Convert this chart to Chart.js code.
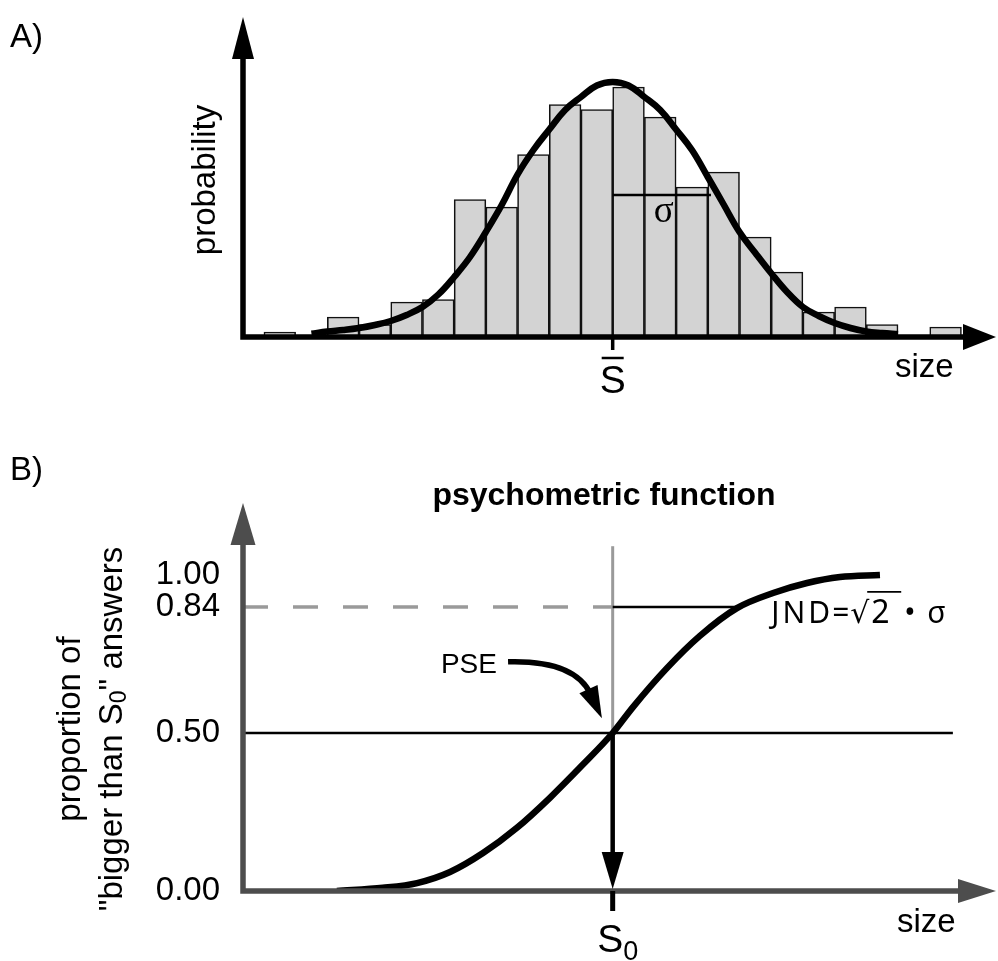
<!DOCTYPE html>
<html>
<head>
<meta charset="utf-8">
<script src="https://cdn.jsdelivr.net/npm/chart.js@4.4.1/dist/chart.umd.min.js"></script>
<style>
  body { margin: 0; background: #fff; }
  #page { position: relative; width: 998px; height: 961px; }
  canvas { position: absolute; left: 0; }
</style>
</head>
<body>
<div id="page">
  <canvas id="histChart" width="998" height="440" style="top:0"></canvas>
  <canvas id="psychChart" width="998" height="521" style="top:440px"></canvas>
</div>
<script>
// ---- A) histogram of size estimates + normal fit ----
const binCenters = [0.5, 1.5, 2.5, 3.5, 4.5, 5.5, 6.5, 7.5, 8.5, 9.5, 10.5,
                    11.5, 12.5, 13.5, 14.5, 15.5, 16.5, 17.5, 18.5, 19.5, 20.5, 21.5];
const binCounts = [2, 0, 8, 5, 14, 15, 55, 52, 73, 93, 91,
                   100, 88, 60, 66, 40, 26, 10, 12, 5, 0, 4];
const fitSize = [1.5, 2, 2.5, 3, 3.5, 4, 4.5, 5, 5.5, 6, 6.5, 7, 7.5, 8, 8.5, 9, 9.5, 10, 10.5, 11,
                 11.5, 12, 12.5, 13, 13.5, 14, 14.5, 15, 15.5, 16, 16.5, 17, 17.5, 18, 18.5, 19, 19.5, 20];
const fitCount = [1.3, 2.2, 2.8, 3.6, 4.8, 6.4, 8.8, 12, 17, 24, 32, 42, 52.8, 65, 74.8, 83, 90.8, 96, 100.6, 102,
                  100.6, 96, 90.8, 83, 74.8, 64, 53, 42, 33.6, 25.5, 18, 12, 8.4, 5.6, 3.6, 2.2, 1.6, 1.2];
const meanSize = 11;
const sigma = 3.1;
const sigmaLevel = 56.8;

// ---- B) psychometric function ----
const s0 = 11;
const testSize = [2.3, 3.75, 4.83, 5.87, 6.91, 7.98, 9.02, 10.06, 11, 11.64, 12.71, 13.75, 14.92, 16.06, 17.13, 18.17, 19.43];
const pBigger = [0, 0.01, 0.025, 0.06, 0.12, 0.2, 0.295, 0.4, 0.5, 0.57, 0.675, 0.762, 0.837, 0.91, 0.96, 0.99, 1.0];
const yTickValues = [0, 0.5, 0.84, 1.0];
const yTickLabels = ['0.00', '0.50', '0.84', '1.00'];
const pse = 0.5;
const jndLevel = 0.84;
const jndEnd = 14.95;
const halfLineEnd = 21.73;

const X_MIN = -0.66, X_MAX = 23.09;
const SANS = '"Liberation Sans", Arial, Helvetica, sans-serif';

// the drawn y axis of B is schematic: its tick marks are not evenly spaced
const knotValues = [0, 0.5, 0.84, 1.0, 1.25];
const knotDecimals = [0, 0.4072, 0.7320, 0.8144, 1];
function piecewise(v, from, to) {
  if (v <= from[0]) return to[0] + (v - from[0]) * (to[1] - to[0]) / (from[1] - from[0]);
  for (let i = 1; i < from.length; i++) {
    if (v <= from[i]) return to[i - 1] + (v - from[i - 1]) * (to[i] - to[i - 1]) / (from[i] - from[i - 1]);
  }
  const n = from.length - 1;
  return to[n] + (v - from[n]) * (to[n] - to[n - 1]) / (from[n] - from[n - 1]);
}
class SchematicScale extends Chart.LinearScale {
  getPixelForValue(value) {
    if (value === null || value === undefined) return NaN;
    return this.getPixelForDecimal(piecewise(value, knotValues, knotDecimals));
  }
  getValueForPixel(pixel) {
    return piecewise(this.getDecimalForPixel(pixel), knotDecimals, knotValues);
  }
}
SchematicScale.id = 'schematic';
SchematicScale.defaults = Chart.LinearScale.defaults;
Chart.register(SchematicScale);

function arrowHead(ctx, tx, ty, dx, dy, len, half) {
  const bx = tx - dx * len, by = ty - dy * len;
  ctx.beginPath();
  ctx.moveTo(tx, ty);
  ctx.lineTo(bx - dy * half, by + dx * half);
  ctx.lineTo(bx + dy * half, by - dx * half);
  ctx.closePath();
  ctx.fill();
}

// text made of runs [text, size, baselineShift, family]
function drawRuns(ctx, runs, x, y, align) {
  let total = 0;
  runs.forEach(r => { ctx.font = r[1] + 'px ' + (r[3] || SANS); total += ctx.measureText(r[0]).width; });
  let cx = align === 'center' ? x - total / 2 : (align === 'right' ? x - total : x);
  ctx.textAlign = 'left';
  runs.forEach(r => {
    ctx.font = r[1] + 'px ' + (r[3] || SANS);
    ctx.fillText(r[0], cx, y + (r[2] || 0));
    cx += ctx.measureText(r[0]).width;
  });
}

const histDecor = {
  id: 'histDecor',
  afterDatasetsDraw(chart) {
    const { ctx, chartArea: a, scales: { x } } = chart;
    ctx.save();
    ctx.strokeStyle = '#000'; ctx.fillStyle = '#000';
    ctx.lineWidth = 5.5; ctx.lineJoin = 'miter'; ctx.lineCap = 'butt';
    ctx.beginPath();
    ctx.moveTo(a.left, a.top + 40);
    ctx.lineTo(a.left, a.bottom);
    ctx.lineTo(a.right - 30, a.bottom);
    ctx.stroke();
    arrowHead(ctx, a.left, a.top, 0, -1, 42, 11);
    arrowHead(ctx, a.right, a.bottom, 1, 0, 33, 13);

    // mean tick and S-bar label
    const mx = x.getPixelForValue(meanSize);
    ctx.lineWidth = 3.5;
    ctx.beginPath(); ctx.moveTo(mx, a.bottom); ctx.lineTo(mx, a.bottom + 13); ctx.stroke();
    ctx.lineWidth = 2.5;
    ctx.beginPath(); ctx.moveTo(mx - 11, a.bottom + 21); ctx.lineTo(mx + 11, a.bottom + 21); ctx.stroke();
    ctx.textBaseline = 'alphabetic';
    drawRuns(ctx, [['S', 39]], mx, a.bottom + 56, 'center');

    // sigma
    ctx.font = '37px "Liberation Serif", "Times New Roman", serif';
    ctx.textAlign = 'center'; ctx.textBaseline = 'middle';
    ctx.fillText('\u03c3', x.getPixelForValue(meanSize + sigma / 2) + 2, 212);

    ctx.textBaseline = 'alphabetic';
    ctx.font = '33px ' + SANS;
    ctx.textAlign = 'left';
    ctx.fillText('A)', 10, 47);
    ctx.fillText('size', a.right - 101, a.bottom + 40);

    ctx.translate(206, 180);
    ctx.rotate(-Math.PI / 2);
    ctx.textAlign = 'center'; ctx.textBaseline = 'middle';
    ctx.fillText('probability', 0, 0);
    ctx.restore();
  }
};

new Chart(document.getElementById('histChart'), {
  type: 'bar',
  data: {
    datasets: [
      {
        type: 'line', label: 'normal fit',
        data: fitSize.map((s, i) => ({ x: s, y: fitCount[i] })),
        borderColor: '#000', borderWidth: 6.5, pointRadius: 0,
        tension: 0.4, order: 0
      },
      {
        type: 'line', label: 'sigma',
        data: [{ x: meanSize, y: sigmaLevel }, { x: meanSize + sigma, y: sigmaLevel }],
        borderColor: '#000', borderWidth: 2.5, pointRadius: 0, order: 1
      },
      {
        label: 'counts',
        data: binCenters.map((c, i) => ({ x: c, y: binCounts[i] })),
        backgroundColor: '#d3d3d3', borderColor: '#111', borderWidth: 1.6,
        barPercentage: 1, categoryPercentage: 1, order: 2
      }
    ]
  },
  options: {
    responsive: false, animation: false,
    layout: { padding: { left: 243, right: 2, top: 17, bottom: 103 } },
    plugins: { legend: { display: false }, tooltip: { enabled: false } },
    scales: {
      x: { type: 'linear', min: X_MIN, max: X_MAX, offset: false, display: false },
      y: { min: 0, max: 128, display: false }
    }
  },
  plugins: [histDecor]
});

const psychDecor = {
  id: 'psychDecor',
  afterDraw(chart) {
    const { ctx, chartArea: a, scales: { x, y } } = chart;
    ctx.save();
    ctx.strokeStyle = '#4d4d4d'; ctx.fillStyle = '#4d4d4d';
    ctx.lineWidth = 5.5; ctx.lineJoin = 'miter'; ctx.lineCap = 'butt';
    ctx.beginPath();
    ctx.moveTo(a.left, a.top + 40);
    ctx.lineTo(a.left, a.bottom);
    ctx.lineTo(a.right - 34, a.bottom);
    ctx.stroke();
    arrowHead(ctx, a.left, a.top, 0, -1, 42, 12.5);
    arrowHead(ctx, a.right, a.bottom, 1, 0, 38, 12);

    const sx = x.getPixelForValue(s0);
    ctx.strokeStyle = '#000'; ctx.fillStyle = '#000';
    ctx.lineWidth = 5;
    ctx.beginPath(); ctx.moveTo(sx, a.bottom); ctx.lineTo(sx, a.bottom + 20); ctx.stroke();
    arrowHead(ctx, sx, y.getPixelForValue(0) - 2, 0, 1, 37, 11);

    // PSE label and curved arrow
    const p0x = x.getPixelForValue(7.7), p0y = y.getPixelForValue(0.692);
    const pcx = x.getPixelForValue(9.81), pcy = y.getPixelForValue(0.697);
    const ptx = x.getPixelForValue(10.66), pty = y.getPixelForValue(0.54);
    const ang = Math.atan2(pty - pcy, ptx - pcx);
    const dx = Math.cos(ang), dy = Math.sin(ang);
    ctx.lineWidth = 5.5;
    ctx.beginPath();
    ctx.moveTo(p0x, p0y);
    ctx.quadraticCurveTo(pcx, pcy, ptx - dx * 26, pty - dy * 26);
    ctx.stroke();
    arrowHead(ctx, ptx, pty, dx, dy, 32, 10);

    ctx.textBaseline = 'alphabetic';
    drawRuns(ctx, [['PSE', 28]], x.getPixelForValue(7.35), y.getPixelForValue(0.662), 'right');

    // JND label
    const jx = x.getPixelForValue(16.0), jy = y.getPixelForValue(0.797);
    const JF = '"Noto Sans", "DejaVu Sans", sans-serif';
    ctx.font = '30px ' + JF; ctx.textAlign = 'left';
    ctx.letterSpacing = '3px';
    ctx.fillText('JND', jx, jy);
    ctx.letterSpacing = '0px';
    ctx.fillText('=', jx + 61, jy);
    ctx.fillText('\u221a', jx + 79, jy);
    ctx.font = '32px ' + JF;
    ctx.fillText('2', jx + 100, jy);
    ctx.font = '30px ' + JF;
    ctx.fillText('\u2022', jx + 133, jy);
    ctx.fillText('\u03c3', jx + 156, jy);
    ctx.lineWidth = 1.8;
    ctx.beginPath(); ctx.moveTo(jx + 96, jy - 31); ctx.lineTo(jx + 130, jy - 31); ctx.stroke();

    // axis labels
    ctx.font = '33px ' + SANS;
    ctx.fillText('size', a.right - 99, a.bottom + 41);
    drawRuns(ctx, [['S', 39], ['0', 27, 8]], sx + 5, a.bottom + 61, 'center');

    ctx.font = 'bold 32px ' + SANS;
    ctx.textAlign = 'center';
    ctx.fillText('psychometric function', 604, 65);
    ctx.font = '33px ' + SANS;
    ctx.textAlign = 'left';
    ctx.fillText('B)', 10, 40);

    // rotated y-axis title (two lines, subscript)
    ctx.save();
    ctx.translate(0, 289);
    ctx.rotate(-Math.PI / 2);
    ctx.textBaseline = 'middle';
    drawRuns(ctx, [['proportion of', 33]], 0, 71, 'center');
    drawRuns(ctx, [['"bigger than S', 33], ['0', 23, 7], ['" answers', 33]], 0, 113, 'center');
    ctx.restore();
    ctx.restore();
  }
};

new Chart(document.getElementById('psychChart'), {
  type: 'line',
  data: {
    datasets: [
      {
        label: 'psychometric function',
        data: testSize.map((s, i) => ({ x: s, y: pBigger[i] })),
        borderColor: '#000', borderWidth: 6.5, pointRadius: 0,
        cubicInterpolationMode: 'monotone', order: 0
      },
      {
        label: 'S0 up', data: [{ x: s0, y: pse }, { x: s0, y: 1.1 }],
        borderColor: '#9a9a9a', borderWidth: 3, pointRadius: 0, order: 3
      },
      {
        label: 'S0 down', data: [{ x: s0, y: pse }, { x: s0, y: 0.12 }],
        borderColor: '#000', borderWidth: 4.5, pointRadius: 0, order: 1
      },
      {
        label: 'PSE level', data: [{ x: X_MIN, y: pse }, { x: halfLineEnd, y: pse }],
        borderColor: '#000', borderWidth: 2.5, pointRadius: 0, order: 2
      },
      {
        label: '0.84 level', data: [{ x: X_MIN, y: jndLevel }, { x: s0, y: jndLevel }],
        borderColor: '#9a9a9a', borderWidth: 3.5, borderDash: [25, 25], pointRadius: 0, order: 4
      },
      {
        label: 'JND', data: [{ x: s0, y: jndLevel }, { x: jndEnd, y: jndLevel }],
        borderColor: '#000', borderWidth: 2.5, pointRadius: 0, order: 2
      }
    ]
  },
  options: {
    responsive: false, animation: false,
    layout: { padding: { left: 0, right: 2, top: 63, bottom: 70 } },
    plugins: { legend: { display: false }, tooltip: { enabled: false } },
    scales: {
      x: { type: 'linear', min: X_MIN, max: X_MAX, display: false },
      y: {
        type: 'schematic', min: 0, max: 1.25,
        grid: { display: false, drawTicks: false },
        border: { display: false },
        afterFit: axis => { axis.width = 243; },
        afterBuildTicks: axis => { axis.ticks = yTickValues.map(v => ({ value: v })); },
        ticks: {
          autoSkip: false, padding: 23, color: '#000',
          font: { size: 33, family: SANS },
          callback: (v, i) => yTickLabels[i]
        }
      }
    }
  },
  plugins: [psychDecor]
});
</script>
</body>
</html>
